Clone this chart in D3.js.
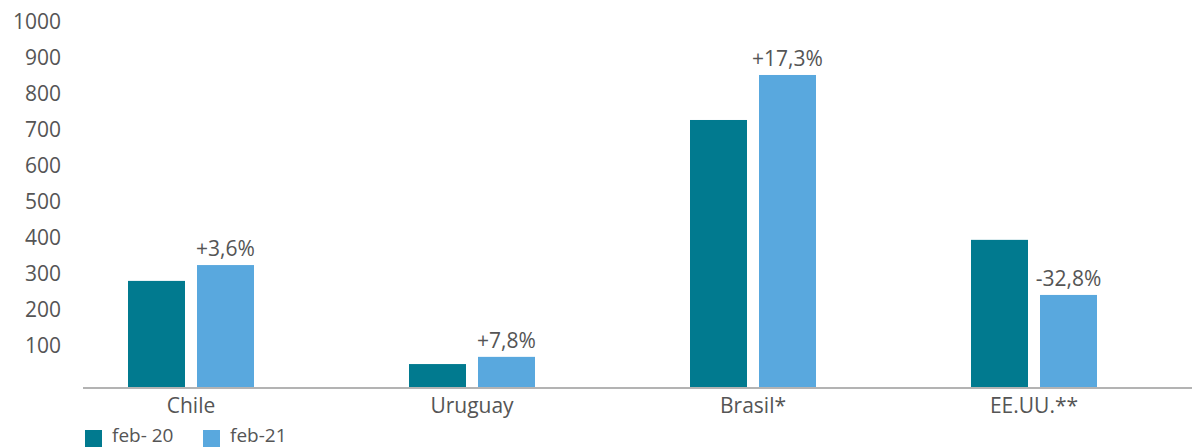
<!DOCTYPE html>
<html>
<head>
<meta charset="utf-8">
<script src="https://cdn.jsdelivr.net/npm/d3@7"></script>
<style>
    body { margin: 0; background: #fff; }
    svg text { font-family: "Open Sans", "Noto Sans", sans-serif; fill: #555; }
</style>
</head>
<body>
<svg id="chart" width="1192" height="448"></svg>
<script>
const categories = ["Chile", "Uruguay", "Brasil*", "EE.UU.**"];
const series = ["feb- 20", "feb-21"];
const feb20 = [280, 49, 727, 394];
const feb21 = [324, 69, 852, 241];
const changes = ["+3,6%", "+7,8%", "+17,3%", "-32,8%"];
const yTicks = [100, 200, 300, 400, 500, 600, 700, 800, 900, 1000];

const colors = ["#017a8f", "#59a8de"];

const svg = d3.select("#chart");

// value scale
const y = d3.scaleLinear()
    .domain([0, 1000])
    .range([381.7, 21.7]);
const baseline = 388;

// country groups
const x = d3.scaleBand()
    .domain(categories)
    .range([50.5, 1174.5])
    .paddingInner(0.5516)
    .paddingOuter(0.2758);

// bars inside a group
const xs = d3.scaleBand()
    .domain(series)
    .range([0, x.bandwidth()])
    .paddingInner(0.174);

const data = categories.map(function(c, i) {
    return {cat: c, values: [feb20[i], feb21[i]], change: changes[i]};
});

// y axis labels
const yAxis = svg.append("g")
    .attr("transform", "translate(61,0)")
    .call(d3.axisLeft(y).tickValues(yTicks).tickFormat(d3.format("d")).tickSize(0).tickPadding(0));
yAxis.select(".domain").remove();
yAxis.selectAll("text")
    .style("font-size", "21px")
    .style("fill", "#555");

// bars
const groups = svg.selectAll(".group")
    .data(data)
    .enter()
    .append("g")
        .attr("class", "group")
        .attr("transform", function(d) { return "translate(" + x(d.cat) + ",0)"; });

groups.selectAll("rect")
    .data(function(d) { return d.values.map(function(v, j) { return {s: series[j], v: v, j: j}; }); })
    .enter()
    .append("rect")
        .attr("x", function(d) { return xs(d.s); })
        .attr("y", function(d) { return y(d.v); })
        .attr("width", xs.bandwidth())
        .attr("height", function(d) { return baseline - y(d.v); })
        .attr("fill", function(d) { return colors[d.j]; });

// change labels above the feb-21 bar
groups.append("text")
    .attr("x", xs(series[1]) + xs.bandwidth() / 2)
    .attr("y", function(d) { return y(d.values[1]) - 9; })
    .attr("text-anchor", "middle")
    .style("font-size", "21px")
    .text(function(d) { return d.change; });

// baseline
svg.append("line")
    .attr("x1", 83)
    .attr("x2", 1192)
    .attr("y1", baseline)
    .attr("y2", baseline)
    .attr("stroke", "#b3b3b3")
    .attr("stroke-width", 2);

// category labels
const xAxis = svg.append("g")
    .attr("transform", "translate(0," + baseline + ")")
    .call(d3.axisBottom(x).tickSize(0).tickPadding(10));
xAxis.select(".domain").remove();
xAxis.selectAll("text")
    .style("font-size", "21px")
    .style("fill", "#555");

// legend
const legendX = [85, 203];
const legend = svg.selectAll(".legend")
    .data(series)
    .enter()
    .append("g")
        .attr("class", "legend")
        .attr("transform", function(d, i) { return "translate(" + legendX[i] + ",430)"; });
legend.append("rect")
    .attr("width", 17)
    .attr("height", 17)
    .attr("fill", function(d, i) { return colors[i]; });
legend.append("text")
    .attr("x", 27)
    .attr("y", 12)
    .style("font-size", "19px")
    .text(function(d) { return d; });
</script>
</body>
</html>
